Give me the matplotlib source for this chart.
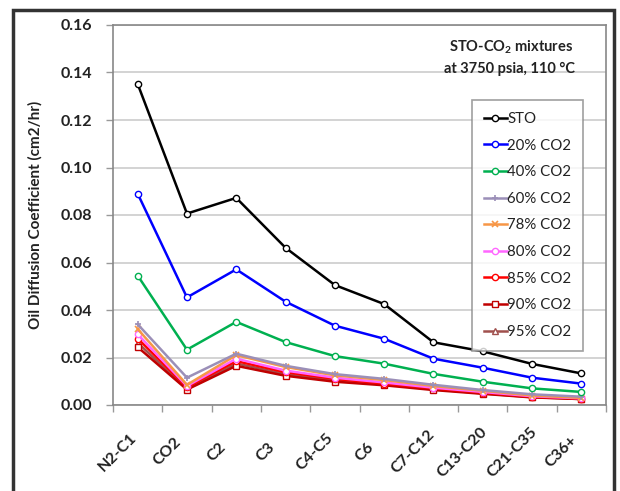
import matplotlib
matplotlib.use("Agg")
import matplotlib.pyplot as plt
from matplotlib.patches import Rectangle
from matplotlib.transforms import ScaledTranslation
import numpy as np

categories = ["N2-C1", "CO2", "C2", "C3", "C4-C5", "C6", "C7-C12", "C13-C20", "C21-C35", "C36+"]

sto    = [0.1352, 0.0806, 0.0872, 0.0662, 0.0505, 0.0425, 0.0264, 0.0226, 0.0173, 0.0133]
co2_20 = [0.0890, 0.0453, 0.0571, 0.0435, 0.0334, 0.0279, 0.0195, 0.0157, 0.0115, 0.0090]
co2_40 = [0.0545, 0.0233, 0.0350, 0.0265, 0.0206, 0.0174, 0.0131, 0.0098, 0.0070, 0.0055]
co2_60 = [0.0340, 0.0115, 0.0216, 0.0165, 0.0130, 0.0110, 0.0085, 0.0063, 0.0045, 0.0035]
co2_78 = [0.0320, 0.0085, 0.0210, 0.0160, 0.0125, 0.0105, 0.0080, 0.0060, 0.0040, 0.0030]
co2_80 = [0.0298, 0.0080, 0.0195, 0.0145, 0.0115, 0.0095, 0.0073, 0.0055, 0.0037, 0.0028]
co2_85 = [0.0280, 0.0075, 0.0185, 0.0138, 0.0110, 0.0090, 0.0070, 0.0052, 0.0035, 0.0027]
co2_90 = [0.0244, 0.0065, 0.0165, 0.0123, 0.0098, 0.0083, 0.0063, 0.0047, 0.0032, 0.0025]
co2_95 = [0.0262, 0.0068, 0.0175, 0.0130, 0.0103, 0.0087, 0.0066, 0.0049, 0.0033, 0.0025]

series_labels = ["STO", "20% CO2", "40% CO2", "60% CO2", "78% CO2", "80% CO2", "85% CO2", "90% CO2", "95% CO2"]
series_values = [sto, co2_20, co2_40, co2_60, co2_78, co2_80, co2_85, co2_90, co2_95]
colors = ["#000000", "#0000ff", "#00b050", "#9b8fb8", "#f79646", "#ff66ff", "#ff0000", "#c00000", "#a0504d"]
markers = ["o", "o", "o", "+", "x", "o", "o", "s", "^"]

yticks = [0.00, 0.02, 0.04, 0.06, 0.08, 0.10, 0.12, 0.14, 0.16]

FONT = ["Lato", "DejaVu Sans"]
plt.rcParams["font.family"] = FONT

fig = plt.figure(figsize=(6.2, 4.91), dpi=100)
ax = fig.add_axes([113/620, 1-405/491, (606-113)/620, (405-25)/491])

x = np.arange(len(categories))
for i in range(len(series_values))[::-1]:
    mk = markers[i]
    if mk in ("+", "x"):
        ax.plot(x, series_values[i], color=colors[i], lw=1.8, marker=mk, ms=5,
                mew=1.2, label=series_labels[i], zorder=3 + (9 - i) * 0.01)
    else:
        ax.plot(x, series_values[i], color=colors[i], lw=1.8, marker=mk, ms=4.5,
                mfc="white", mec=colors[i], mew=1.0, label=series_labels[i],
                zorder=3 + (9 - i) * 0.01)

ax.set_xlim(-0.5, len(categories) - 0.5)
ax.set_ylim(0, 0.16)
ax.set_yticks(yticks)
ax.set_yticklabels([f"{v:.2f}" for v in yticks], fontsize=11.5, fontweight="bold", color="#222222")
ax.yaxis.grid(True, color="#d0d0d0", lw=1.3)
ax.set_axisbelow(True)

ax.set_xticks(x)
ax.set_xticklabels(categories, rotation=45, ha="center", va="center", rotation_mode="anchor",
                   fontsize=11.5, fontweight="bold", color="#222222")
ax.tick_params(axis="x", length=0, pad=0)
offset = ScaledTranslation(-0.20, -0.47, fig.dpi_scale_trans)
for lab in ax.get_xticklabels():
    lab.set_transform(lab.get_transform() + offset)
ax.set_xticks(np.arange(-0.5, len(categories)), minor=True)
ax.tick_params(axis="x", which="minor", length=5, color="#999999", width=1)
ax.tick_params(axis="y", length=5, color="#999999", width=1, pad=10)

for s in ax.spines.values():
    s.set_color("#888888")
    s.set_linewidth(1.2)

ax.set_ylabel("Oil Diffusion Coefficient (cm2/hr)", fontsize=11, fontweight="bold",
              color="#222222", labelpad=13)

handles, labels = ax.get_legend_handles_labels()
handles = handles[::-1]
labels = labels[::-1]
leg = ax.legend(handles, labels, loc="upper left", bbox_to_anchor=((472-113)/493, (405-100)/380),
                frameon=True, fancybox=False, edgecolor="#888888",
                handlelength=1.5, handletextpad=0.05, labelspacing=0.84, borderpad=0.8,
                borderaxespad=0, prop={"family": FONT, "size": 10.8})
leg.get_frame().set_linewidth(1.2)
for t in leg.get_texts():
    t.set_color("#222222")

fig.text(573/620, 1-47/491, "STO-CO$_\\mathregular{2}$ mixtures", ha="right", va="center",
         fontsize=10.5, fontweight="bold", color="#222222")
fig.text(575/620, 1-69/491, "at 3750 psia, 110 \u00b0C", ha="right", va="center",
         fontsize=10.5, fontweight="bold", color="#222222")

fig.patches.append(Rectangle((13/620, -0.05), (614-13)/620, 1.05 - 10/491,
                             transform=fig.transFigure, fill=False, edgecolor="#333333",
                             linewidth=2.5, zorder=10))

fig.savefig("out.png", dpi=100)
